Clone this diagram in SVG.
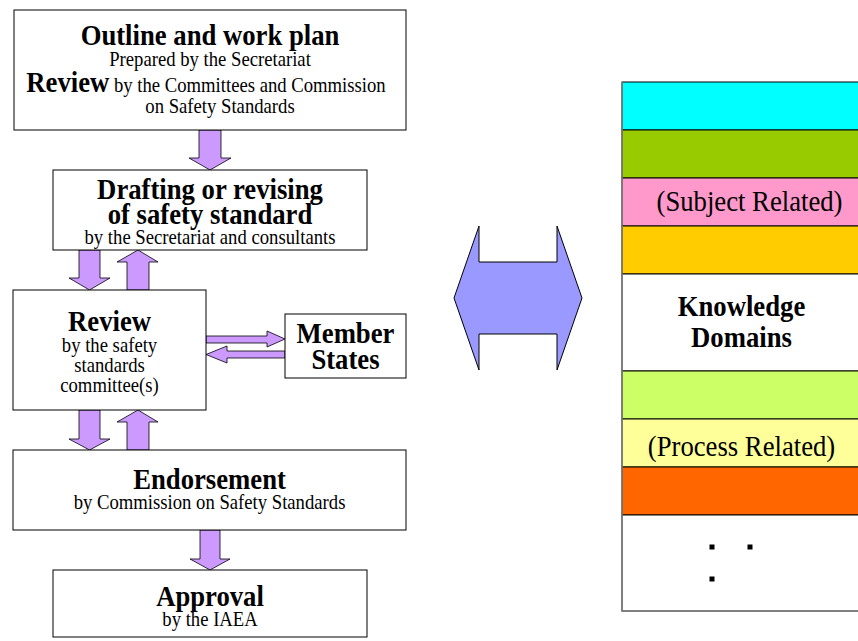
<svg xmlns="http://www.w3.org/2000/svg" width="858" height="641" viewBox="0 0 858 641">
<style>
.box{fill:#fff;stroke:#000;stroke-width:1}
.arr{fill:#CC99FF;stroke:#000;stroke-width:0.8}
.t{font-family:"Liberation Serif","Times New Roman",serif;fill:#000;text-anchor:middle;transform-box:fill-box;transform-origin:center;transform:scaleX(0.89)}
.b{font-weight:bold;font-size:30px}
.r{font-size:21px}
.band{stroke:#000;stroke-width:1}
.big{font-size:30px}
</style>
<rect width="858" height="641" fill="#fff"/>
<g id="connectors">
<path class="arr" d="M199,130 H221 V158 H231 L210,170 L189,158 H199 Z"/>
<path class="arr" d="M79,250 H100 V278 H110 L89.5,290 L69,278 H79 Z"/>
<path class="arr" d="M127,290 V262 H117 L138,250 L158,262 H149 V290 Z"/>
<path class="arr" d="M79,410 H100 V439 H110 L89.5,450 L69,439 H79 Z"/>
<path class="arr" d="M127,450 V422 H117 L138,410 L158,422 H149 V450 Z"/>
<path class="arr" d="M200,530 H220 V559 H230 L210,570 L190,559 H200 Z"/>
<path class="arr" d="M206,336 H267 V331 L285,339 L267,347 V343 H206 Z"/>
<path class="arr" d="M285,351 H227 V346 L206,354.5 L227,363 V358 H285 Z"/>
<path id="double-arrow" d="M454,298 L479,226 V262 H557 V226 L582,298 L557,370 V334 H479 V370 Z" fill="#9999FF" stroke="#000" stroke-width="1"/>
</g>
<g id="outline">
<rect class="box" x="14" y="10" width="392" height="120"/>
<text class="t b" x="210" y="45">Outline and work plan</text>
<text class="t r" x="210" y="66">Prepared by the Secretariat</text>
<text class="t r" x="206" y="92"><tspan class="b">Review</tspan> by the Committees and Commission</text>
<text class="t r" x="220" y="113">on Safety Standards</text>
</g>
<g id="drafting">
<rect class="box" x="53" y="170" width="314" height="80"/>
<text class="t b" x="210" y="199">Drafting or revising</text>
<text class="t b" x="210" y="224">of safety standard</text>
<text class="t r" x="210" y="244">by the Secretariat and consultants</text>
</g>
<g id="review">
<rect class="box" x="13" y="290" width="193" height="120"/>
<text class="t b" x="109.5" y="331">Review</text>
<text class="t r" x="109.5" y="352">by the safety</text>
<text class="t r" x="109.5" y="372">standards</text>
<text class="t r" x="109.5" y="392">committee(s)</text>
</g>
<g id="member-states">
<rect class="box" x="285" y="314" width="121" height="64"/>
<text class="t b" x="345.5" y="343">Member</text>
<text class="t b" x="345.5" y="369">States</text>
</g>
<g id="endorsement">
<rect class="box" x="13" y="450" width="393" height="80"/>
<text class="t b" x="209.5" y="489">Endorsement</text>
<text class="t r" x="209.5" y="509">by Commission on Safety Standards</text>
</g>
<g id="approval">
<rect class="box" x="53" y="570" width="314" height="67"/>
<text class="t b" x="210" y="606">Approval</text>
<text class="t r" x="210" y="626">by the IAEA</text>
</g>
<g id="knowledge-domains">
<rect class="band" x="622" y="82" width="240" height="48" fill="#00FFFF"/>
<rect class="band" x="622" y="130" width="240" height="48" fill="#99CC00"/>
<rect class="band" x="622" y="178" width="240" height="48" fill="#FF99CC"/>
<rect class="band" x="622" y="226" width="240" height="48" fill="#FFCC00"/>
<rect class="band" x="622" y="274" width="240" height="97" fill="#FFFFFF"/>
<rect class="band" x="622" y="371" width="240" height="48" fill="#CCFF66"/>
<rect class="band" x="622" y="419" width="240" height="48" fill="#FFFF99"/>
<rect class="band" x="622" y="467" width="240" height="48" fill="#FF6600"/>
<rect class="band" x="622" y="515" width="240" height="96" fill="#FFFFFF"/>
<path d="M622,82 V611 H862" fill="none" stroke="#808080" stroke-width="1.5"/>
<text class="t big" x="749.5" y="211">(Subject Related)</text>
<text class="t b" x="741.5" y="316">Knowledge</text>
<text class="t b" x="741.5" y="347">Domains</text>
<text class="t big" x="741.5" y="456">(Process Related)</text>
<rect x="709.5" y="544.5" width="5" height="5" fill="#000"/>
<rect x="747.5" y="544.5" width="5" height="5" fill="#000"/>
<rect x="709.5" y="576.5" width="5" height="5" fill="#000"/>
</g>
</svg>
